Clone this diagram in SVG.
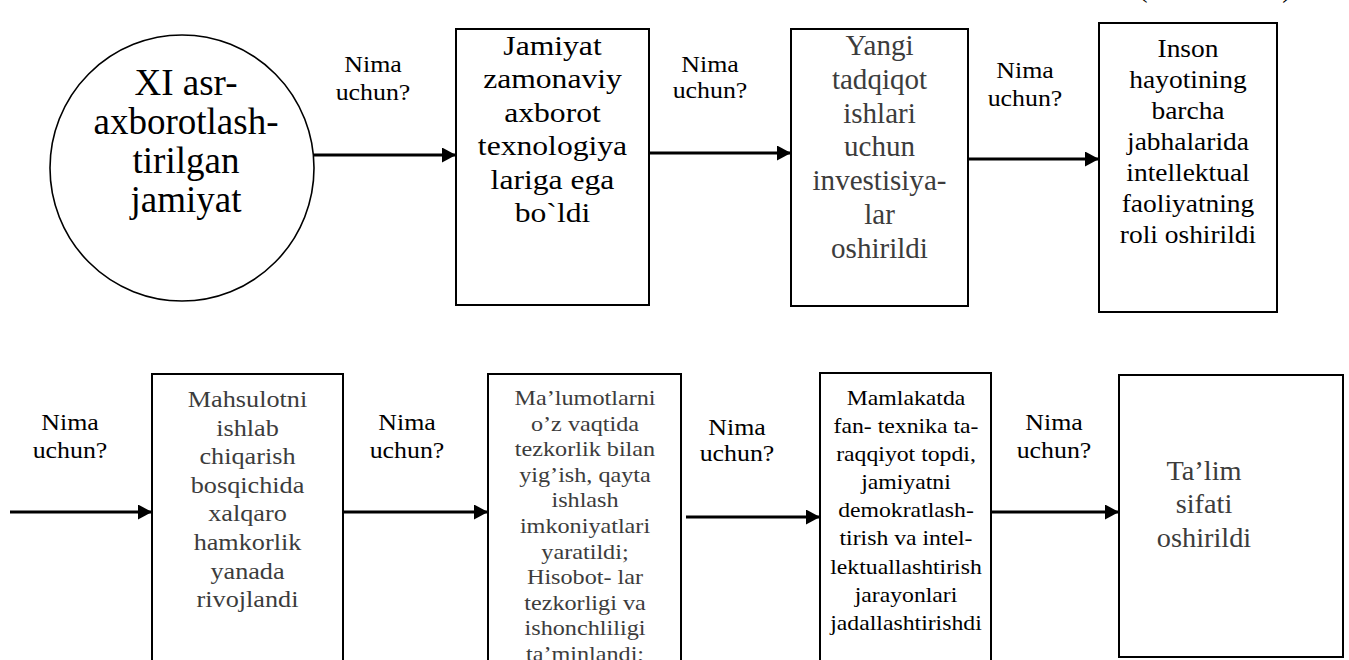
<svg xmlns="http://www.w3.org/2000/svg" width="1349" height="660" viewBox="0 0 1349 660">
  <style>
    text { font-family: "Liberation Serif", "Times New Roman", serif; text-anchor: middle; fill: #000; }
    .dim { fill: #3c3c3c; }
    .box { fill: #fff; stroke: #000; stroke-width: 2; }
    .ask { font-size: 22.5px; }
    .link { stroke: #000; stroke-width: 3; fill: none; marker-end: url(#head); }
  </style>
  <defs>
    <marker id="head" markerUnits="userSpaceOnUse" markerWidth="15" markerHeight="16" refX="14" refY="7.5" orient="auto">
      <path d="M0,0 L14,7.5 L0,15 z" fill="#000"/>
    </marker>
  </defs>

  <rect width="1349" height="660" fill="#fff"/>

  <!-- caption brackets clipped at the top edge -->
  <text x="1143" y="-3" style="font-size:28px">(</text>
  <text x="1287" y="-3" style="font-size:28px">)</text>

  <!-- connectors -->
  <g id="connectors">
    <line class="link" x1="314" y1="155" x2="456" y2="155"/>
    <line class="link" x1="649" y1="153" x2="791" y2="153"/>
    <line class="link" x1="969" y1="159" x2="1099" y2="159"/>
    <line class="link" x1="10" y1="512" x2="152" y2="512"/>
    <line class="link" x1="343" y1="512" x2="488" y2="512"/>
    <line class="link" x1="686" y1="517" x2="820" y2="517"/>
    <line class="link" x1="991" y1="512" x2="1119" y2="512"/>
  </g>

  <!-- connector labels -->
  <g id="labels">
    <g transform="translate(373,0) scale(1.15,1)">
      <text class="ask" x="0" y="72">Nima</text>
      <text class="ask" x="0" y="100">uchun?</text>
    </g>
    <g transform="translate(710,0) scale(1.15,1)">
      <text class="ask" x="0" y="72">Nima</text>
      <text class="ask" x="0" y="98">uchun?</text>
    </g>
    <g transform="translate(1025,0) scale(1.15,1)">
      <text class="ask" x="0" y="78">Nima</text>
      <text class="ask" x="0" y="106">uchun?</text>
    </g>
    <g transform="translate(70,0) scale(1.15,1)">
      <text class="ask" x="0" y="430">Nima</text>
      <text class="ask" x="0" y="458">uchun?</text>
    </g>
    <g transform="translate(407,0) scale(1.15,1)">
      <text class="ask" x="0" y="430">Nima</text>
      <text class="ask" x="0" y="458">uchun?</text>
    </g>
    <g transform="translate(737,0) scale(1.15,1)">
      <text class="ask" x="0" y="435">Nima</text>
      <text class="ask" x="0" y="461">uchun?</text>
    </g>
    <g transform="translate(1054,0) scale(1.15,1)">
      <text class="ask" x="0" y="430">Nima</text>
      <text class="ask" x="0" y="458">uchun?</text>
    </g>
  </g>

  <!-- top row -->
  <g id="n-start">
    <ellipse cx="182" cy="168" rx="132" ry="133" fill="#fff" stroke="#000" stroke-width="1.6"/>
    <g style="font-size:37px">
      <text x="186" y="95">XI asr-</text>
      <text x="186" y="134">axborotlash-</text>
      <text x="186" y="173">tirilgan</text>
      <text x="186" y="212">jamiyat</text>
    </g>
  </g>

  <g id="n-jamiyat">
    <rect class="box" x="456" y="29" width="193" height="276"/>
    <g transform="translate(552.5,0) scale(1.15,1)" style="font-size:27.5px">
      <text x="0" y="55">Jamiyat</text>
      <text x="0" y="88.4">zamonaviy</text>
      <text x="0" y="121.8">axborot</text>
      <text x="0" y="155.2">texnologiya</text>
      <text x="0" y="188.6">lariga ega</text>
      <text x="0" y="222">bo`ldi</text>
    </g>
  </g>

  <g id="n-yangi">
    <rect class="box" x="791" y="29" width="177" height="277"/>
    <g transform="translate(879.5,0) scale(1.02,1)" style="font-size:28.5px">
      <text class="dim" x="0" y="55">Yangi</text>
      <text class="dim" x="0" y="88.8">tadqiqot</text>
      <text class="dim" x="0" y="122.6">ishlari</text>
      <text class="dim" x="0" y="156.4">uchun</text>
      <text class="dim" x="0" y="190.2">investisiya-</text>
      <text class="dim" x="0" y="224">lar</text>
      <text class="dim" x="0" y="257.8">oshirildi</text>
    </g>
  </g>

  <g id="n-inson">
    <rect class="box" x="1099" y="23" width="178" height="289"/>
    <g transform="translate(1188,0) scale(1.12,1)" style="font-size:24.5px">
      <text x="0" y="57">Inson</text>
      <text x="0" y="88">hayotining</text>
      <text x="0" y="119">barcha</text>
      <text x="0" y="150">jabhalarida</text>
      <text x="0" y="181">intellektual</text>
      <text x="0" y="212">faoliyatning</text>
      <text x="0" y="243">roli oshirildi</text>
    </g>
  </g>

  <!-- bottom row -->
  <g id="n-mahsulot">
    <rect class="box" x="152" y="374" width="191" height="300"/>
    <g transform="translate(247.5,0) scale(1.14,1)" style="font-size:23px">
      <text class="dim" x="0" y="407">Mahsulotni</text>
      <text class="dim" x="0" y="435.6">ishlab</text>
      <text class="dim" x="0" y="464.2">chiqarish</text>
      <text class="dim" x="0" y="492.8">bosqichida</text>
      <text class="dim" x="0" y="521.4">xalqaro</text>
      <text class="dim" x="0" y="550">hamkorlik</text>
      <text class="dim" x="0" y="578.6">yanada</text>
      <text class="dim" x="0" y="607.2">rivojlandi</text>
    </g>
  </g>

  <g id="n-malumot">
    <rect class="box" x="488" y="374" width="193" height="300"/>
    <g transform="translate(585,0) scale(1.18,1)" style="font-size:20.5px">
      <text class="dim" x="0" y="405">Ma’lumotlarni</text>
      <text class="dim" x="0" y="430.6">o’z vaqtida</text>
      <text class="dim" x="0" y="456.2">tezkorlik bilan</text>
      <text class="dim" x="0" y="481.8">yig’ish, qayta</text>
      <text class="dim" x="0" y="507.4">ishlash</text>
      <text class="dim" x="0" y="533">imkoniyatlari</text>
      <text class="dim" x="0" y="558.6">yaratildi;</text>
      <text class="dim" x="0" y="584.2">Hisobot- lar</text>
      <text class="dim" x="0" y="609.8">tezkorligi va</text>
      <text class="dim" x="0" y="635.4">ishonchliligi</text>
      <text class="dim" x="0" y="661">ta’minlandi;</text>
    </g>
  </g>

  <g id="n-mamlakat">
    <rect class="box" x="820" y="373" width="171" height="300"/>
    <g transform="translate(906,0) scale(1.13,1)" style="font-size:21px">
      <text x="0" y="405">Mamlakatda</text>
      <text x="0" y="433">fan- texnika ta-</text>
      <text x="0" y="461">raqqiyot topdi,</text>
      <text x="0" y="489.5">jamiyatni</text>
      <text x="0" y="517.5">demokratlash-</text>
      <text x="0" y="545.5">tirish va intel-</text>
      <text x="0" y="574">lektuallashtirish</text>
      <text x="0" y="602">jarayonlari</text>
      <text x="0" y="630">jadallashtirishdi</text>
    </g>
  </g>

  <g id="n-talim">
    <rect class="box" x="1119" y="375" width="224" height="282"/>
    <g transform="translate(1204,0) scale(1.03,1)" style="font-size:27.5px">
      <text class="dim" x="0" y="480">Ta’lim</text>
      <text class="dim" x="0" y="513.5">sifati</text>
      <text class="dim" x="0" y="547">oshirildi</text>
    </g>
  </g>
</svg>
